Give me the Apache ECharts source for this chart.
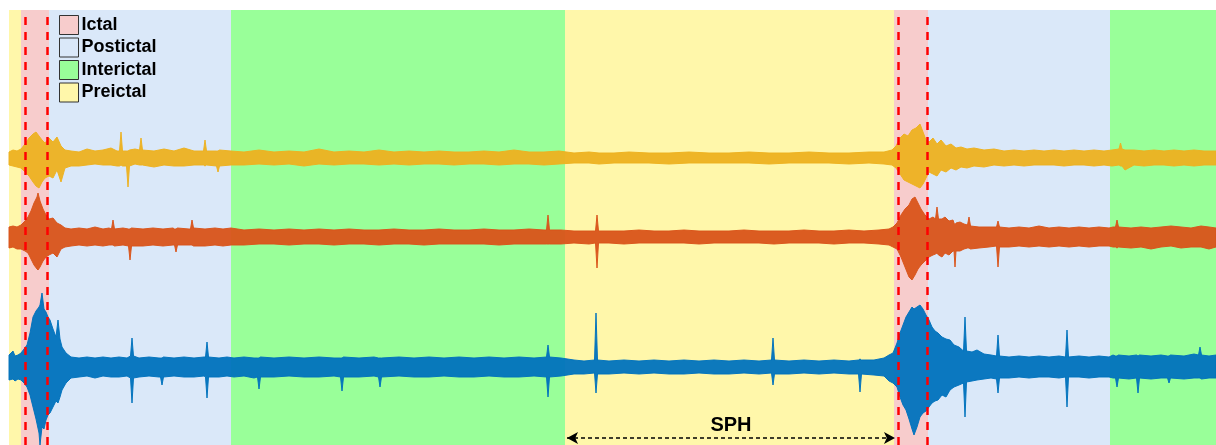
<!DOCTYPE html>
<html>
<head>
<meta charset="utf-8">
<script src="https://cdn.jsdelivr.net/npm/echarts@6/dist/echarts.min.js"></script>
<style>
  html, body { margin: 0; padding: 0; background: #fff; }
  #chart { width: 1216px; height: 445px; }
</style>
</head>
<body>
<div id="chart"></div>
<script>
// time runs 0..1207 (arbitrary units), amplitude in display units
const bandNames = ['Ictal', 'Postictal', 'Interictal', 'Preictal'];
const bandColors = ['#F7CCCC', '#DAE8F9', '#99FF99', '#FFF7AA'];
const bandType = ['Preictal', 'Ictal', 'Postictal', 'Interictal', 'Preictal', 'Ictal', 'Postictal', 'Interictal'];
const bandStart = [0, 12, 40, 222, 556, 885, 919, 1101];
const bandEnd = [12, 40, 222, 556, 885, 919, 1101, 1207];
const seizureMarks = [16.5, 38, 889, 918];
const sphRange = [558, 886];

const channelColors = ['#EDB120', '#D95319', '#0072BD'];
const channelOffsets = [287, 208, 78];

// [time, upper envelope, lower envelope]
const ch1 = [
  [0, 6, 7], [4, 8, 8], [8, 7, 9], [12, 9, 10], [16, 14, 14], [20, 20, 18], [24, 24, 24], [27, 26, 28],
  [30, 22, 30], [33, 18, 24], [36, 15, 20], [40, 20, 18], [44, 16, 20], [48, 21, 12], [52, 12, 24],
  [56, 8, 10], [62, 7, 8], [70, 6, 8], [78, 9, 7], [86, 7, 6], [94, 8, 7], [102, 10, 7], [108, 7, 8],
  [110.5, 7, 8], [112, 26, 7], [113.5, 7, 8], [117.5, 7, 8], [119, 7, 29], [120.5, 8, 8], [126, 9, 6],
  [130.5, 8, 7], [132, 20, 7], [133.5, 8, 7],
  [145, 7, 9], [155, 9, 7], [165, 7, 8], [175, 10, 8], [185, 7, 7], [194.5, 7, 7], [196, 18, 8],
  [197.5, 7, 7], [207.5, 7, 8], [209, 7, 14], [210.5, 8, 8], [222, 7, 7], [235, 6, 7], [250, 8, 6],
  [265, 6, 7], [280, 7, 6],
  [295, 6, 8], [310, 9, 6], [325, 6, 7], [340, 7, 6], [355, 6, 6], [370, 8, 7], [385, 6, 6],
  [400, 7, 7], [415, 6, 6], [430, 7, 6], [445, 6, 7], [460, 6, 6], [475, 7, 6], [490, 6, 7],
  [505, 8, 6], [520, 6, 6], [535, 6, 7], [550, 7, 6], [565, 5, 5], [580, 6, 5], [590, 5, 6],
  [605, 5, 5], [620, 6, 5], [640, 5, 5], [660, 5, 6], [680, 6, 5], [700, 5, 5], [720, 5, 5],
  [740, 6, 5], [760, 5, 6], [780, 5, 5], [800, 6, 5], [820, 5, 5], [840, 5, 6], [860, 6, 5],
  [875, 6, 6], [883, 8, 7], [887, 12, 10], [891, 20, 16], [895, 24, 22], [899, 22, 24],
  [903, 28, 26], [907, 30, 28], [911, 34, 30], [914, 26, 26], [917, 18, 20], [920, 16, 14],
  [924, 20, 16], [928, 14, 18], [932, 18, 12], [937, 12, 14], [942, 14, 10], [947, 10, 12],
  [952, 11, 9], [958, 9, 10], [965, 10, 8], [975, 8, 9], [985, 9, 7], [995, 7, 8], [1005, 8, 7],
  [1015, 7, 8], [1025, 8, 7], [1035, 7, 7], [1045, 8, 7], [1055, 7, 8], [1065, 8, 7], [1075, 7, 7],
  [1085, 8, 8], [1095, 7, 7], [1103, 8, 8], [1110, 9, 7], [1111.5, 15, 8], [1113, 9, 8], [1116, 8, 12],
  [1125, 8, 7], [1135, 7, 8], [1145, 8, 7], [1155, 7, 7], [1165, 8, 8], [1175, 7, 7], [1185, 8, 8],
  [1195, 7, 7], [1207, 7, 7]
];

const ch2 = [
  [0, 10, 11], [4, 11, 10], [8, 10, 12], [12, 12, 12], [16, 16, 14], [19, 20, 16], [22, 26, 22],
  [25, 34, 28], [28, 40, 32], [29, 44, 33], [31, 36, 30], [34, 28, 24], [37, 22, 20], [40, 18, 18],
  [44, 19, 16], [48, 14, 20], [52, 12, 12], [56, 9, 10], [62, 8, 9], [70, 9, 8], [78, 8, 9],
  [86, 10, 8], [94, 8, 9], [100, 9, 8], [102.5, 8, 8], [104, 17, 8], [105.5, 8, 9], [114, 9, 8],
  [119.5, 8, 9], [121, 8, 23], [122.5, 9, 9], [134, 8, 9], [144, 9, 8], [154, 8, 9], [164, 9, 8],
  [165.5, 8, 8], [167, 8, 15], [168.5, 9, 8], [180, 8, 8], [181.5, 8, 8], [183, 17, 8], [184.5, 9, 9],
  [196, 8, 9], [206, 9, 8], [214, 8, 9],
  [222, 9, 8], [235, 7, 8], [250, 8, 7], [265, 7, 7], [280, 8, 8], [295, 7, 7], [310, 8, 7],
  [325, 7, 8], [340, 8, 7], [355, 7, 7], [370, 7, 8], [385, 8, 7], [400, 7, 7], [415, 7, 8],
  [430, 8, 7], [445, 7, 7], [460, 7, 7], [475, 8, 7], [490, 7, 8], [505, 7, 7], [520, 8, 7],
  [535, 7, 7], [537.5, 7, 7], [539, 22, 7], [540.5, 7, 7], [552, 7, 7], [565, 6, 6], [580, 6, 7],
  [586.5, 6, 6], [588, 22, 31], [589.5, 6, 6], [600, 6, 6], [615, 6, 7], [630, 7, 6], [645, 6, 6],
  [660, 6, 6],
  [675, 7, 6], [690, 6, 7], [705, 6, 6], [720, 6, 6], [735, 7, 6], [750, 6, 6], [765, 6, 7],
  [780, 6, 6], [795, 7, 6], [810, 6, 6], [825, 6, 7], [840, 7, 6], [855, 6, 6], [870, 7, 7],
  [880, 8, 8], [884, 10, 10], [888, 14, 12], [892, 22, 20], [896, 28, 30], [900, 32, 40],
  [903, 38, 43], [906, 40, 38], [909, 34, 32], [912, 28, 28], [916, 22, 24], [920, 18, 20],
  [924, 20, 18], [926.5, 18, 17], [928, 30, 16], [929.5, 18, 18], [933, 18, 20], [936, 20, 16],
  [940, 16, 18], [944, 17, 14], [945, 14, 14], [946, 12, 30], [947, 14, 14], [951, 15, 14],
  [955, 13, 12], [958.5, 12, 11], [960, 20, 11], [961.5, 11, 12], [970, 10, 11],
  [980, 10, 10], [987.5, 10, 9], [989, 16, 30], [990.5, 10, 10], [1000, 9, 10], [1010, 10, 9],
  [1020, 9, 10], [1030, 11, 9], [1040, 9, 10], [1050, 10, 9], [1060, 9, 10], [1070, 10, 9],
  [1080, 9, 10], [1090, 10, 9], [1100, 9, 9], [1104, 10, 10], [1106.5, 10, 10], [1108, 17, 11],
  [1109.5, 10, 10], [1122, 9, 11], [1132, 10, 10], [1142, 9, 12], [1152, 10, 10], [1162, 11, 9],
  [1172, 10, 11], [1182, 9, 10], [1192, 11, 10], [1200, 10, 12], [1207, 9, 10]
];

const ch3 = [
  [0, 12, 13], [4, 16, 12], [6, 11, 14], [9, 12, 12], [12, 14, 13], [15, 18, 16], [18, 22, 20],
  [21, 34, 28], [24, 50, 40], [27, 56, 52], [30, 60, 66], [31, 62, 78], [33, 74, 60], [35, 58, 62],
  [37, 55, 53], [39, 50, 48], [41, 47, 46], [44, 38, 40], [47, 30, 34], [49, 47, 36], [51, 28, 30],
  [53, 20, 23], [57, 14, 16], [62, 10, 11], [70, 9, 10], [78, 10, 9], [86, 9, 11], [94, 10, 9],
  [102, 9, 10], [110, 10, 10], [118, 9, 9], [121.5, 11, 11], [123, 29, 36], [124.5, 11, 11],
  [130, 9, 10], [140, 10, 9], [150, 9, 10], [151.5, 9, 10], [153, 9, 18], [154.5, 10, 10],
  [165, 9, 9], [175, 10, 10], [185, 9, 10], [195, 10, 9], [196.5, 10, 10], [198, 25, 31],
  [199.5, 10, 10], [210, 9, 10], [218, 10, 9],
  [225, 9, 10], [235, 10, 9], [245, 9, 11], [248.5, 9, 10], [250, 9, 22], [251.5, 10, 10],
  [265, 9, 10], [280, 10, 9], [295, 9, 10], [310, 10, 10], [325, 9, 9], [331.5, 9, 10], [333, 9, 24],
  [334.5, 10, 10], [350, 9, 10], [365, 10, 9], [369.5, 9, 10], [371, 9, 20], [372.5, 9, 10],
  [390, 10, 9], [405, 9, 10], [420, 10, 10], [435, 9, 9], [450, 10, 10],
  [465, 9, 10], [480, 10, 9], [495, 9, 10], [510, 10, 10], [525, 9, 9], [537.5, 10, 10], [539, 22, 30],
  [540.5, 10, 10], [552, 9, 9], [565, 7, 7], [575, 6, 7], [585.5, 7, 6], [587, 54, 26], [588.5, 7, 7],
  [600, 6, 7], [615, 7, 6], [630, 6, 7], [645, 7, 6], [660, 6, 7], [675, 7, 7], [690, 6, 6],
  [705, 7, 7], [720, 6, 7], [735, 7, 6], [750, 6, 7], [762.5, 7, 6], [764, 29, 18], [765.5, 7, 7],
  [780, 6, 7], [795, 7, 6], [810, 6, 7], [825, 7, 6], [840, 6, 7], [849.5, 7, 7], [851, 8, 25],
  [852.5, 7, 7], [865, 7, 8], [875, 9, 9], [880, 12, 14], [884, 14, 16], [888, 24, 20], [891, 34, 30],
  [894, 42, 38], [897, 50, 43], [900, 55, 52], [903, 60, 62], [905, 58, 68], [908, 60, 60],
  [911, 62, 50], [914, 58, 46], [917, 52, 44], [920, 47, 40], [923, 40, 36], [926, 36, 34],
  [929, 34, 33], [933, 30, 28], [937, 28, 30], [941, 27, 23], [945, 22, 20], [950, 20, 18],
  [954.5, 16, 16], [956, 50, 50], [957.5, 16, 15], [963, 15, 14], [968, 17, 13], [975, 13, 12],
  [982, 12, 11], [987.5, 11, 12], [989, 32, 26], [990.5, 11, 11], [1000, 10, 11], [1010, 11, 10],
  [1020, 10, 11], [1030, 11, 10], [1040, 10, 10], [1050, 11, 11], [1056.5, 10, 10], [1058, 37, 40],
  [1059.5, 10, 10], [1070, 11, 10], [1080, 10, 11], [1090, 11, 10], [1100, 10, 10], [1104, 12, 11],
  [1106.5, 11, 11], [1108, 11, 20], [1109.5, 12, 11], [1120, 11, 12], [1127.5, 12, 11],
  [1129, 11, 26], [1130.5, 12, 11], [1142, 11, 12], [1152, 12, 11], [1158.5, 11, 11], [1160, 11, 16],
  [1161.5, 12, 11], [1175, 11, 12], [1185, 13, 11], [1189.5, 12, 11], [1191, 20, 11],
  [1192.5, 12, 12], [1200, 11, 11], [1207, 12, 11]
];

const channels = [ch1, ch2, ch3];

const chart = echarts.init(document.getElementById('chart'));

// background bands, one series per state so they show up in the legend
const bandSeries = bandNames.map((name, i) => ({
  name: name,
  type: 'line',
  data: [],
  z: 0,
  itemStyle: { color: bandColors[i] },
  markArea: {
    silent: true,
    itemStyle: { color: bandColors[i], opacity: 1 },
    data: bandType
      .map((t, k) => (t === name ? [{ xAxis: bandStart[k] }, { xAxis: bandEnd[k] }] : null))
      .filter(Boolean),
  },
}));

// each channel is drawn as one filled envelope polygon (upper edge, then lower edge back)
const signalSeries = {
  type: 'custom',
  z: 2,
  silent: true,
  data: channels.map((ch, i) => [i]),
  renderItem: function (params, api) {
    const i = api.value(0);
    const ch = channels[i];
    const base = channelOffsets[i];
    const top = ch.map((d) => api.coord([d[0], base + d[1]]));
    const bottom = ch.map((d) => api.coord([d[0], base - d[2]])).reverse();
    return {
      type: 'polygon',
      shape: { points: top.concat(bottom) },
      style: {
        fill: channelColors[i],
        stroke: channelColors[i],
        lineWidth: 1,
        opacity: 0.95,
      },
    };
  },
};

const markerSeries = {
  name: 'markers',
  type: 'line',
  data: [],
  z: 5,
  markLine: {
    silent: true,
    symbol: ['none', 'none'],
    data: seizureMarks.map((x) => ({ xAxis: x })),
    lineStyle: { color: '#FF0000', width: 2.5, type: [8, 7] },
    label: { show: false },
  },
};

const sphSeries = {
  name: 'sph',
  type: 'line',
  data: [],
  z: 5,
  markLine: {
    silent: true,
    symbol: ['arrow', 'arrow'],
    symbolSize: [9, 11],
    lineStyle: { color: '#000', width: 1.5, type: [4, 3] },
    label: {
      show: true,
      position: 'middle',
      formatter: 'SPH',
      color: '#000',
      fontSize: 20,
      fontWeight: 'bold',
      fontFamily: 'Liberation Sans, Arial, sans-serif',
      distance: 3,
    },
    data: [[{ coord: [sphRange[0], 7] }, { coord: [sphRange[1], 7] }]],
  },
};

const option = {
  animation: false,
  backgroundColor: '#fff',
  grid: { left: 9, right: 0, top: 10, bottom: 0 },
  xAxis: { type: 'value', min: 0, max: 1207, show: false },
  yAxis: { type: 'value', min: 0, max: 435, show: false },
  legend: {
    data: bandNames,
    orient: 'vertical',
    left: 54,
    top: 10,
    icon: 'rect',
    itemWidth: 19,
    itemHeight: 19,
    itemGap: 2.5,
    selectedMode: false,
    itemStyle: { borderColor: '#333', borderWidth: 1 },
    textStyle: {
      color: '#000',
      fontSize: 18,
      fontWeight: 'bold',
      fontFamily: 'Liberation Sans, Arial, sans-serif',
      padding: [0, 0, 0, -2],
    },
  },
  series: [...bandSeries, signalSeries, markerSeries, sphSeries],
};

chart.setOption(option);
</script>
</body>
</html>
